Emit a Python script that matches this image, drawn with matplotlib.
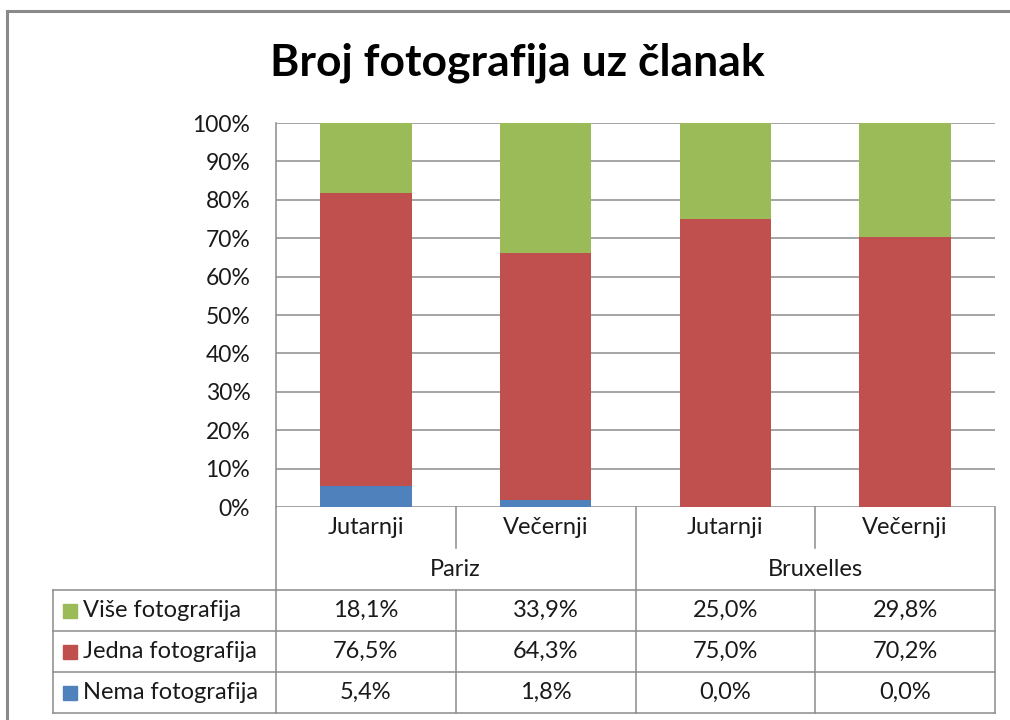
import matplotlib
matplotlib.use("Agg")
import matplotlib.pyplot as plt
from matplotlib.lines import Line2D
from matplotlib.patches import Rectangle

title = "Broj fotografija uz članak"
categories = ["Jutarnji", "Večernji", "Jutarnji", "Večernji"]
groups = ["Pariz", "Bruxelles"]
series_names = ["Više fotografija", "Jedna fotografija", "Nema fotografija"]
vise = [18.1, 33.9, 25.0, 29.8]
jedna = [76.5, 64.3, 75.0, 70.2]
nema = [5.4, 1.8, 0.0, 0.0]
yticks = [0, 10, 20, 30, 40, 50, 60, 70, 80, 90, 100]

c_green = "#9BBB59"
c_red = "#C0504D"
c_blue = "#4F81BD"
grid_c = "#8C8C8C"
font = "Lato"
fs = 17

W, H = 1010, 720
fig = plt.figure(figsize=(W / 100, H / 100), dpi=100)
fig.patch.set_facecolor("white")

L, R, T, B = 276, 995, 123, 507
ax = fig.add_axes([L / W, 1 - B / H, (R - L) / W, (B - T) / H])
ax.set_xlim(-0.5, 3.5)
ax.set_ylim(0, 100)
x = list(range(len(categories)))
bw = 0.51
ax.bar(x, nema, bw, color=c_blue, zorder=3)
ax.bar(x, jedna, bw, bottom=nema, color=c_red, zorder=3)
bottom2 = [a + b for a, b in zip(nema, jedna)]
ax.bar(x, vise, bw, bottom=bottom2, color=c_green, zorder=3)
ax.set_yticks(yticks)
ax.set_yticklabels([f"{v}%" for v in yticks], fontsize=16.5, family=font, color="#1a1a1a")
ax.tick_params(axis="y", length=0, pad=18.5)
ax.set_xticks([])
ax.yaxis.grid(True, color=grid_c, lw=1.1, zorder=0)
for s in ["top", "right", "bottom"]:
    ax.spines[s].set_visible(False)
ax.spines["left"].set_color(grid_c)
ax.spines["left"].set_linewidth(1.1)

# overlay in pixel coords
ov = fig.add_axes([0, 0, 1, 1], zorder=5)
ov.set_xlim(0, W)
ov.set_ylim(H, 0)
ov.axis("off")
ov.patch.set_alpha(0)

def line(x0, y0, x1, y1, c=grid_c, lw=1.1):
    ov.add_line(Line2D([x0, x1], [y0, y1], color=c, lw=lw))

# outer border
line(7, 11, W, 11, c="#8A8A8A", lw=2.2)
line(7, 11, 7, H, c="#8A8A8A", lw=2.2)

ov.text(517, 63, title, fontsize=32, fontweight="bold", family=font,
        ha="center", va="center", color="black")

slot = (R - L) / 4
cols = [L + i * slot for i in range(5)]
# category area lines
line(L, B, L, 590)
line(R, B, R, 713)
line(cols[2], B, cols[2], 713)
line(cols[1], B, cols[1], 548)
line(cols[3], B, cols[3], 548)
line(cols[1], 590, cols[1], 713)
line(cols[3], 590, cols[3], 713)
rows = [590, 631, 672, 713]
for yy in rows:
    line(53, yy, R, yy)
line(53, 590, 53, 713)
line(L, 590, L, 713)

for i, c in enumerate(categories):
    ov.text(L + (i + 0.5) * slot, 527, c, fontsize=fs, family=font,
            ha="center", va="center", color="#1a1a1a")
for g, gname in enumerate(groups):
    ov.text(cols[2 * g + 1], 569, gname, fontsize=fs, family=font,
            ha="center", va="center", color="#1a1a1a")

table_series = [vise, jedna, nema]
colors = [c_green, c_red, c_blue]
for r, (name, vals, col) in enumerate(zip(series_names, table_series, colors)):
    yc = (rows[r] + rows[r + 1]) / 2
    ov.add_patch(Rectangle((63, yc - 7), 14, 14, color=col))
    ov.text(83, yc, name, fontsize=fs, family=font, ha="left", va="center",
            color="#1a1a1a")
    for i, v in enumerate(vals):
        ov.text(L + (i + 0.5) * slot, yc, f"{v:.1f}%".replace(".", ","),
                fontsize=fs, family=font, ha="center", va="center", color="#1a1a1a")

fig.savefig("out.png", dpi=100, facecolor="white")
